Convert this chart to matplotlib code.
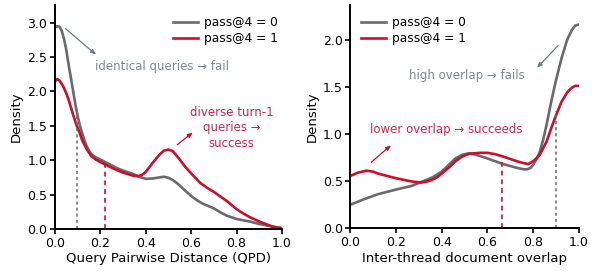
import matplotlib
matplotlib.use("Agg")
import matplotlib.pyplot as plt

# ---------------- data ----------------
# Left panel: Query Pairwise Distance (QPD) densities
qpd_x_fail = [0.0, 0.01, 0.02, 0.03, 0.04, 0.05, 0.06, 0.07, 0.08, 0.09, 0.1, 0.11, 0.12, 0.13,
              0.14, 0.15, 0.16, 0.18, 0.2, 0.23, 0.27, 0.3, 0.345, 0.37, 0.4, 0.43, 0.46, 0.48,
              0.5, 0.52, 0.54, 0.57, 0.6, 0.625, 0.65, 0.7, 0.73, 0.76, 0.8, 0.86, 0.9, 0.96, 1.0]
qpd_y_fail = [2.93, 2.95, 2.94, 2.88, 2.76, 2.6, 2.39, 2.2, 2.0, 1.81, 1.64, 1.5, 1.39, 1.29,
              1.2, 1.14, 1.09, 1.04, 1.01, 0.96, 0.89, 0.85, 0.80, 0.76, 0.73, 0.735, 0.75, 0.76,
              0.745, 0.71, 0.66, 0.57, 0.48, 0.42, 0.37, 0.30, 0.24, 0.19, 0.146, 0.107, 0.073,
              0.034, 0.012]
qpd_x_pass = [0.0, 0.01, 0.02, 0.037, 0.05, 0.06, 0.07, 0.08, 0.095, 0.11, 0.12, 0.14, 0.16,
              0.18, 0.22, 0.27, 0.3, 0.345, 0.37, 0.385, 0.4, 0.43, 0.46, 0.48, 0.5, 0.52, 0.55,
              0.575, 0.6, 0.62, 0.64, 0.67, 0.7, 0.73, 0.76, 0.8, 0.83, 0.86, 0.9, 0.93, 0.96, 1.0]
qpd_y_pass = [2.15, 2.18, 2.16, 2.07, 1.97, 1.88, 1.77, 1.66, 1.51, 1.39, 1.29, 1.16, 1.06,
              1.01, 0.94, 0.86, 0.82, 0.775, 0.77, 0.79, 0.83, 0.96, 1.08, 1.14, 1.155, 1.13, 1.01,
              0.9, 0.81, 0.74, 0.67, 0.60, 0.54, 0.47, 0.40, 0.29, 0.225, 0.17, 0.11, 0.07, 0.034,
              0.01]
qpd_median = {"fail": (0.095, 1.70), "pass": (0.22, 0.96)}

# Right panel: inter-thread document overlap densities
ov_x_fail = [0.0, 0.063, 0.12, 0.2, 0.27, 0.32, 0.36, 0.4, 0.43, 0.46, 0.49, 0.52, 0.55, 0.6,
             0.67, 0.73, 0.76, 0.775, 0.79, 0.8, 0.815, 0.83, 0.845, 0.86, 0.88, 0.9, 0.925,
             0.95, 0.97, 0.985, 1.0]
ov_y_fail = [0.25, 0.31, 0.36, 0.41, 0.45, 0.50, 0.54, 0.60, 0.67, 0.74, 0.78, 0.795, 0.78, 0.74,
             0.68, 0.64, 0.625, 0.625, 0.64, 0.67, 0.73, 0.81, 0.94, 1.10, 1.34, 1.56, 1.80,
             2.0, 2.10, 2.15, 2.16]
ov_x_pass = [0.0, 0.034, 0.07, 0.1, 0.12, 0.16, 0.2, 0.27, 0.31, 0.335, 0.355, 0.38, 0.4, 0.43,
             0.46, 0.49, 0.52, 0.57, 0.6, 0.635, 0.67, 0.7, 0.73, 0.76, 0.78, 0.8, 0.815, 0.83,
             0.845, 0.86, 0.88, 0.9, 0.925, 0.95, 0.97, 0.985, 1.0]
ov_y_pass = [0.556, 0.59, 0.61, 0.60, 0.58, 0.555, 0.53, 0.495, 0.485, 0.495, 0.51, 0.54, 0.58,
             0.64, 0.71, 0.76, 0.79, 0.80, 0.80, 0.785, 0.76, 0.735, 0.71, 0.69, 0.68, 0.71,
             0.74, 0.78, 0.85, 0.92, 1.06, 1.19, 1.34, 1.44, 1.49, 1.51, 1.51]
ov_median = {"fail": (0.90, 1.24), "pass": (0.665, 0.71)}

labels = ["pass@4 = 0", "pass@4 = 1"]
xticks = [0.0, 0.2, 0.4, 0.6, 0.8, 1.0]

GRAY = "#6a6a6a"
RED = "#c8102e"
GRAY_TXT = "#7d8892"
RED_TXT = "#d3264a"

plt.rcParams["font.family"] = ["DejaVu Sans"]
fig = plt.figure(figsize=(5.94, 2.71), dpi=100)
ax1 = fig.add_axes([0.0926, 0.155, 0.382, 0.827])
ax2 = fig.add_axes([0.590, 0.158, 0.384, 0.824])

def style(ax):
    for s in ["top", "right"]:
        ax.spines[s].set_visible(False)
    for s in ["left", "bottom"]:
        ax.spines[s].set_linewidth(1.4)
    ax.tick_params(axis="both", labelsize=9, width=1.2, length=3.5, pad=2)
    ax.set_xticks(xticks)
    ax.set_xlim(0, 1)

arrow_kw = "-|>,head_length=0.3,head_width=0.12"

# Left panel
ax1.plot(qpd_x_fail, qpd_y_fail, color=GRAY, lw=1.9, label=labels[0], solid_joinstyle="round")
ax1.plot(qpd_x_pass, qpd_y_pass, color=RED, lw=1.9, label=labels[1], solid_joinstyle="round")
mx, my = qpd_median["fail"]
ax1.plot([mx, mx], [0, my], color=GRAY, lw=1.1, ls=(0, (2, 2)))
mx, my = qpd_median["pass"]
ax1.plot([mx, mx], [0, my], color=RED, lw=1.4, ls=(0, (2.5, 2)), alpha=0.85)
style(ax1)
ax1.set_ylim(0, 3.26)
ax1.set_yticks([0.0, 0.5, 1.0, 1.5, 2.0, 2.5, 3.0])
ax1.set_xlabel("Query Pairwise Distance (QPD)", fontsize=9.5, labelpad=2)
ax1.set_ylabel("Density", fontsize=9.5, labelpad=3)
ax1.legend(loc="upper right", bbox_to_anchor=(1.03, 1.0), frameon=False, fontsize=8.8,
           handlelength=2.0, handletextpad=0.5, labelspacing=0.25)
ax1.text(0.47, 2.36, "identical queries \u2192 fail", color=GRAY_TXT, fontsize=8.5,
         ha="center", va="center")
ax1.annotate("", xy=(0.19, 2.51), xytext=(0.037, 2.94),
             arrowprops=dict(arrowstyle=arrow_kw, color="#6f7b86", lw=0.9))
ax1.text(0.778, 1.47, "diverse turn-1\nqueries \u2192\nsuccess", color=RED_TXT, fontsize=8.5,
         ha="center", va="center", linespacing=1.25)
ax1.annotate("", xy=(0.617, 1.43), xytext=(0.529, 1.20),
             arrowprops=dict(arrowstyle=arrow_kw, color=RED, lw=0.9))

# Right panel
ax2.plot(ov_x_fail, ov_y_fail, color=GRAY, lw=1.9, label=labels[0], solid_joinstyle="round")
ax2.plot(ov_x_pass, ov_y_pass, color=RED, lw=1.9, label=labels[1], solid_joinstyle="round")
mx, my = ov_median["pass"]
ax2.plot([mx, mx], [0, my], color=RED, lw=1.4, ls=(0, (2.5, 2)), alpha=0.85)
mx, my = ov_median["fail"]
ax2.plot([mx, mx], [0, my], color=GRAY, lw=1.1, ls=(0, (2, 2)))
style(ax2)
ax2.set_ylim(0, 2.37)
ax2.set_yticks([0.0, 0.5, 1.0, 1.5, 2.0])
ax2.set_xlabel("Inter-thread document overlap", fontsize=9.5, labelpad=2)
ax2.set_ylabel("Density", fontsize=9.5, labelpad=3)
ax2.legend(loc="upper left", bbox_to_anchor=(0.0, 1.0), frameon=False, fontsize=8.8,
           handlelength=2.0, handletextpad=0.5, labelspacing=0.25)
ax2.text(0.51, 1.62, "high overlap \u2192 fails", color=GRAY_TXT, fontsize=8.5,
         ha="center", va="center")
ax2.annotate("", xy=(0.809, 1.68), xytext=(0.919, 1.96),
             arrowprops=dict(arrowstyle=arrow_kw, color="#6f7b86", lw=0.9))
ax2.text(0.42, 1.05, "lower overlap \u2192 succeeds", color=RED_TXT, fontsize=8.5,
         ha="center", va="center")
ax2.annotate("", xy=(0.187, 0.90), xytext=(0.082, 0.68),
             arrowprops=dict(arrowstyle=arrow_kw, color=RED, lw=0.9))

fig.savefig("out.png", dpi=100)
